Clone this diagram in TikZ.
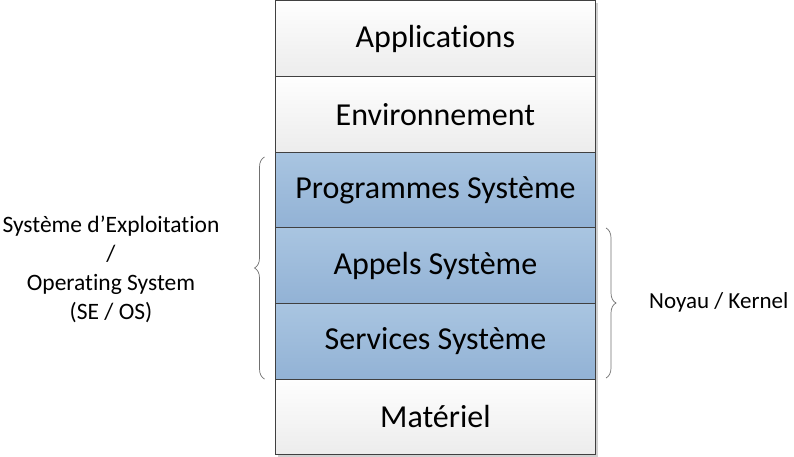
\documentclass[tikz,border=0pt]{standalone}
\usepackage{fontspec}
\setmainfont{Carlito}[Ligatures={NoCommon}]
\usetikzlibrary{decorations.pathreplacing}
\definecolor{edgec}{HTML}{404040}
\definecolor{wtop}{HTML}{FEFEFE}
\definecolor{wbot}{HTML}{ECECEC}
\definecolor{btop}{HTML}{A9C5E1}
\definecolor{bbot}{HTML}{92B2D5}
\definecolor{bracec}{HTML}{707070}
\begin{document}
\begin{tikzpicture}[x=1pt,y=-1pt,
  layer/.style={draw=edgec, line width=0.9pt, minimum width=320.5pt, minimum height=75.7pt,
    inner sep=0pt, font=\fontsize{32}{36}\selectfont, anchor=north west},
  whitelayer/.style={layer, shading=axis, top color=wtop, bottom color=wbot},
  bluelayer/.style={layer, shading=axis, top color=btop, bottom color=bbot},
  bracedec/.style={draw=bracec, line width=0.7pt, decorate,
    decoration={brace, amplitude=10pt}},
  sidelabel/.style={font=\fontsize{23.5}{29}\selectfont, align=center, inner sep=0pt}]
\useasboundingbox (0,0) rectangle (794,457);
% shadow
\fill[black!18] (277.5,3) rectangle (598,457);
% layers
\node[whitelayer] (app) at (274.7,0.2) {Applications};
\node[whitelayer] (env) at (274.7,75.9) {Environnement};
\node[bluelayer] (prog) at (274.7,151.6) {Programmes Système};
\node[bluelayer] (appels) at (274.7,227.3) {Appels Système};
\node[bluelayer] (serv) at (274.7,303.0) {Services Système};
\node[whitelayer] (mat) at (274.7,378.7) {Matériel};
% braces
\coordinate (lb1) at (264.5,379);
\coordinate (lb2) at (264.5,157);
\coordinate (rb1) at (606,228);
\coordinate (rb2) at (606,378);
\draw[bracedec] (lb1) -- (lb2);
\draw[bracedec] (rb1) -- (rb2);
% labels
\node[sidelabel] (os) at (111,269.5) {Système d’Exploitation\\/\\Operating System\\(SE / OS)};
\node[sidelabel, anchor=west, font=\fontsize{23}{29}\selectfont] (kern) at (649,302) {Noyau / Kernel};
\end{tikzpicture}
\end{document}
